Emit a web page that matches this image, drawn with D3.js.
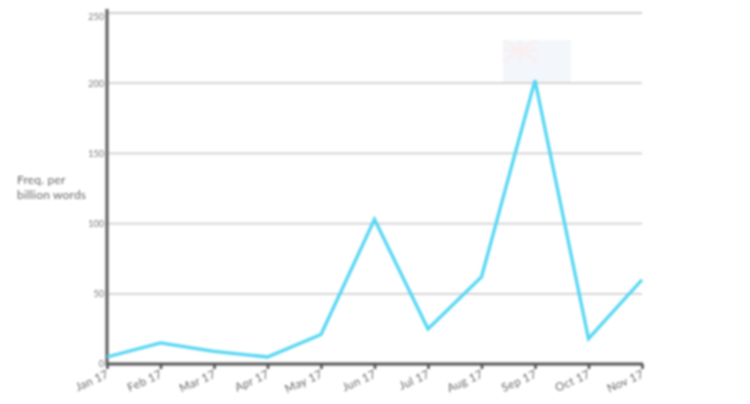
<!DOCTYPE html>
<html><head><meta charset="utf-8">
<script src="https://cdnjs.cloudflare.com/ajax/libs/d3/7.8.5/d3.min.js"></script>
<style>html,body{margin:0;background:#fff;overflow:hidden}svg{display:block;filter:blur(.8px)}text{font-family:Lato,sans-serif}</style>
</head><body><svg id="c" width="750" height="404"></svg>
<script>
const months=["Jan 17","Feb 17","Mar 17","Apr 17","May 17","Jun 17","Jul 17","Aug 17","Sep 17","Oct 17","Nov 17"];
const freq=[5,15,9,5,21,103,25,62,202,18,60];
const yTicks=[0,50,100,150,200,250];
const yTitle=["Freq. per","billion words"];
const svg=d3.select("#c");
const x=d3.scalePoint().domain(months).range([107,642]);
const y=d3.scaleLinear().domain([0,250]).range([364,13]);

// pale flag behind the peak
const fx=x("Sep 17")-32, fw=68, fy=y(200)-43, fh=43;
svg.append("rect").attr("x",fx).attr("y",fy).attr("width",fw).attr("height",fh).attr("fill","#f3f6fa");
const uj=svg.append("g").attr("stroke","#f9eff0").attr("stroke-width",3).attr("fill","none");
uj.append("path").attr("d",`M${fx} ${fy}L${fx+34} ${fy+21}M${fx+34} ${fy}L${fx} ${fy+21}M${fx+17} ${fy}V${fy+21}M${fx} ${fy+10.5}H${fx+34}`);

// gridlines
svg.append("g").selectAll("line").data(yTicks.slice(1)).join("line")
 .attr("x1",109).attr("x2",642).attr("y1",d=>y(d)).attr("y2",d=>y(d))
 .attr("stroke","#cfcfcf").attr("stroke-width",1.8);

// axes
const gy=svg.append("g").attr("transform","translate(107,0)")
 .call(d3.axisLeft(y).tickValues(yTicks).tickSize(0).tickPadding(3));
gy.select(".domain").remove();
gy.selectAll("text").attr("fill","#777").attr("font-size",9)
 .attr("transform",d=>d===250?"translate(0,4)":null);
const gx=svg.append("g").attr("transform","translate(0,364)")
 .call(d3.axisBottom(x).tickSize(4).tickPadding(0));
gx.select(".domain").remove();
gx.selectAll("line").attr("stroke","#555").attr("stroke-width",2.6).attr("y1",0).attr("y2",5);
gx.selectAll("text").attr("fill","#666").attr("font-size",11.5).attr("letter-spacing",.3)
 .attr("text-anchor","end").attr("dy",0)
 .attr("transform","translate(2,13) rotate(-24)").attr("y",0).attr("x",0);
svg.append("line").attr("x1",107).attr("x2",643).attr("y1",y(0)).attr("y2",y(0)).attr("stroke","#555").attr("stroke-width",3);
svg.append("line").attr("x1",107).attr("x2",107).attr("y1",9).attr("y2",366).attr("stroke","#636363").attr("stroke-width",3.2);

// series
svg.append("path").datum(freq)
 .attr("d",d3.line().x((d,i)=>x(months[i])).y(d=>y(d)))
 .attr("fill","none").attr("stroke","#55d6f3").attr("stroke-width",3.3).attr("stroke-linejoin","miter");

// y title
svg.append("g").selectAll("text").data(yTitle).join("text")
 .attr("x",17).attr("y",(d,i)=>184+i*15).attr("fill","#666").attr("font-size",12).attr("letter-spacing",.2).text(d=>d);
</script></body></html>
